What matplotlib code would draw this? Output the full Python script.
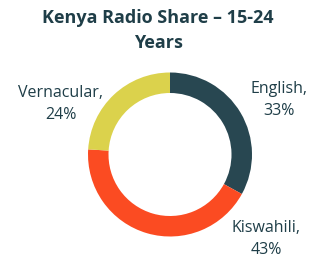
import numpy as np
import matplotlib.pyplot as plt

# Data
labels = ['English', 'Kiswahili', 'Vernacular']
shares = [33, 43, 24]
colors = ['#284751', '#fb4b22', '#dbd24c']
title = 'Kenya Radio Share \u2013 15-24\nYears'

# label anchor positions in pixel coords (x, y from top)
label_pos = [(279, 100), (266, 239), (61, 104)]

W, H = 331, 275
text_color = '#1f3e48'

fig = plt.figure(figsize=(W / 100, H / 100), dpi=100)
ax = fig.add_axes([0, 0, 1, 1])

## donut
ax.pie(shares, colors=colors, startangle=90, counterclock=False,
       center=(170, H - 154.5), radius=82,
       wedgeprops=dict(width=20.5, linewidth=0), frame=True)
ax.set_xlim(0, W)
ax.set_ylim(0, H)
ax.axis('off')

## labels
for lab, val, (x, y) in zip(labels, shares, label_pos):
    ax.text(x, H - y, f'{lab},\n{val}%', ha='center', va='center',
            fontsize=11.5, color=text_color, family='Open Sans',
            linespacing=1.45)

## title
fig.text(158 / W, 1 - 30.5 / H, title, ha='center', va='center',
         fontsize=13, fontweight='bold', color=text_color,
         family='Open Sans', linespacing=1.45)

fig.savefig('out.png', dpi=100)
